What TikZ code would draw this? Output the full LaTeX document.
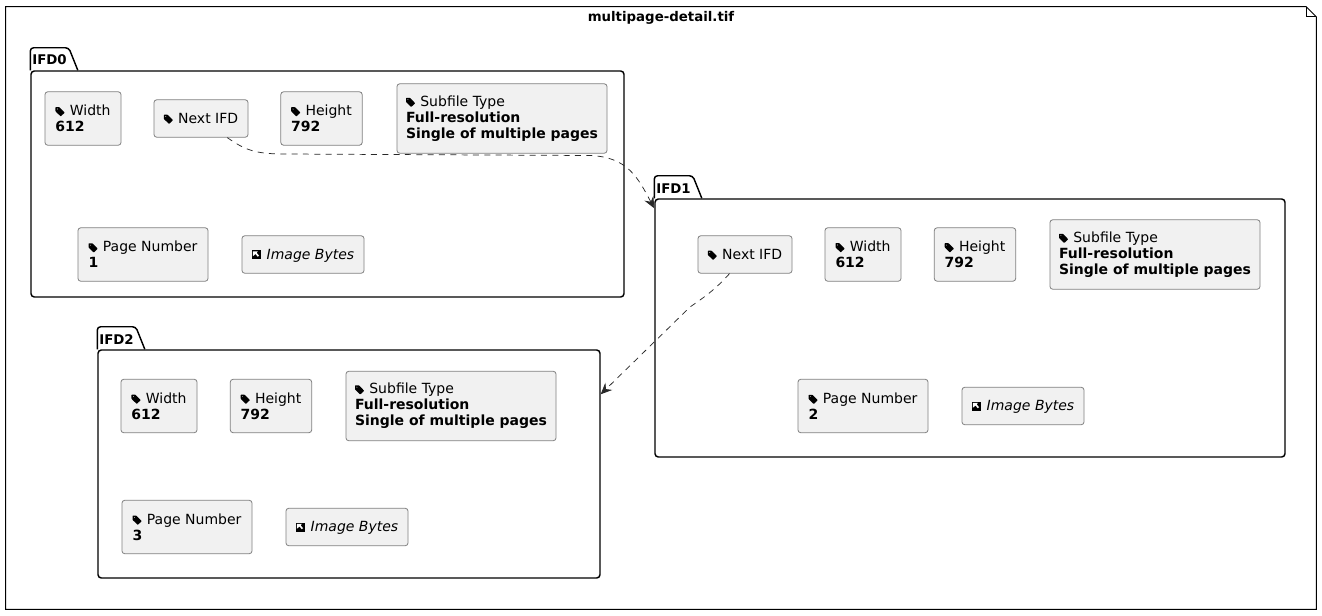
\documentclass[tikz,border=0pt]{standalone}
\usepackage{fontspec}
\setmainfont{DejaVu Sans}
\usepackage{tikz}
\usetikzlibrary{arrows.meta}
\definecolor{boxfill}{RGB}{241,241,241}
\definecolor{boxline}{RGB}{128,128,128}
\definecolor{linkline}{RGB}{40,40,40}
\newcommand{\tagicon}{\makebox[10.75pt][l]{\tikz[baseline=0pt, sharp corners]{\fill[even odd rule, rounded corners=0.35pt] (0pt,6.4pt) -- (2.9pt,6.4pt) -- (6.9pt,2.3pt) -- (3.9pt,-0.5pt) -- (0pt,3.3pt) -- cycle (1.4pt,5pt) circle (0.55pt);}}}
\newcommand{\imgicon}{\makebox[11.25pt][l]{\tikz[baseline=0pt, sharp corners]{\fill (0pt,-0.1pt) rectangle (6.75pt,6.65pt); \fill[white] (0.9pt,5.75pt) -- (4.6pt,5.75pt) -- (3.7pt,4.7pt) -- (5.5pt,2.5pt) -- (4.6pt,1.7pt) -- (2.8pt,3.8pt) -- (0.9pt,2.1pt) -- cycle;}}}
\tikzstyle{attr} = [rectangle, rounded corners=2pt, align=left, inner sep=0pt, draw=boxline, line width=0.6pt, fill=boxfill, font=\fontsize{10.5pt}{12pt}\selectfont]
\tikzstyle{wbox} = [attr, minimum width=57pt, minimum height=40pt]
\tikzstyle{nbox} = [attr, minimum width=70.5pt, minimum height=28pt]
\tikzstyle{hbox} = [attr, minimum width=61pt, minimum height=40pt]
\tikzstyle{sbox} = [attr, minimum width=157.5pt, minimum height=52pt]
\tikzstyle{pbox} = [attr, minimum width=97.5pt, minimum height=40pt]
\tikzstyle{ibox} = [attr, minimum width=91.5pt, minimum height=28pt, text height=9pt]
\tikzstyle{package} = [rectangle, draw=black, line width=1.1pt, rounded corners=2.5pt, fill=white, inner sep=0pt]
\tikzstyle{tabline} = [draw=black, line width=1.1pt, rounded corners=2.5pt]
\tikzstyle{tablabel} = [inner sep=0pt, minimum width=28.5pt, minimum height=16.5pt, text height=9pt, anchor=south west, font=\fontsize{10pt}{12pt}\selectfont\bfseries]
\tikzstyle{arrow} = [draw=linkline, line width=0.55pt, dash pattern=on 4.5pt off 4pt, -{Stealth[length=8.5pt,width=7.5pt,inset=3pt]}]
\begin{document}
\begin{tikzpicture}[x=0.75pt, y=-0.75pt, node distance=75pt]
        \useasboundingbox (0,0) rectangle (1322,615);
        \node (file) [inner sep=0pt, minimum width=982.5pt, minimum height=451.5pt] at (661,308) {};
        \draw [fill=white, line width=0.75pt] (file.north west) -- ([xshift=-7.5pt]file.north east) -- ([yshift=-7.5pt]file.north east) -- (file.south east) -- (file.south west) -- cycle;
        \draw [line width=0.75pt] ([xshift=-7.5pt]file.north east) -- ++(0,10) -- ([yshift=-7.5pt]file.north east);
        \node (title) [font=\fontsize{10pt}{12pt}\selectfont\bfseries, inner sep=0pt] at (661,17.5) {multipage-detail.tif};

        \node (ifd0) [package, minimum width=444.75pt, minimum height=169.5pt] at (327.5,184) {};
        \node (tab0) [tablabel] at (ifd0.north west) {IFD0};
        \node (ifd1) [package, minimum width=472.5pt, minimum height=193.5pt] at (970,328) {};
        \node (tab1) [tablabel] at (ifd1.north west) {IFD1};
        \node (ifd2) [package, minimum width=376.5pt, minimum height=171pt] at (349,464) {};
        \node (tab2) [tablabel] at (ifd2.north west) {IFD2};
        \foreach \tabname in {tab0, tab1, tab2}
            \draw [tabline] (\tabname.south west) -- (\tabname.north west) -- (\tabname.north east) -- ([xshift=6.75pt]\tabname.south east);

        \node (width0) [wbox] at (83,118.5) {\tagicon Width\\\textbf{612}};
        \node (next0) [nbox, right of=width0, xshift=13.5pt] {\tagicon Next IFD};
        \node (height0) [hbox, right of=next0, xshift=15.375pt] {\tagicon Height\\\textbf{792}};
        \node (sub0) [sbox, right of=height0, xshift=60.375pt] {\tagicon Subfile Type\\\textbf{Full-resolution}\\\textbf{Single of multiple pages}};
        \node (page0) [pbox, below of=width0, xshift=45pt, yshift=-27pt] {\tagicon Page Number\\\textbf{1}};
        \node (image0) [ibox, right of=page0, xshift=45pt] {\imgicon\textit{Image Bytes}};

        \node (next1) [nbox] at (745,254.5) {\tagicon Next IFD};
        \node (width1) [wbox, right of=next1, xshift=13.5pt] {\tagicon Width\\\textbf{612}};
        \node (height1) [hbox, right of=width1, xshift=9pt] {\tagicon Height\\\textbf{792}};
        \node (sub1) [sbox, right of=height1, xshift=60pt] {\tagicon Subfile Type\\\textbf{Full-resolution}\\\textbf{Single of multiple pages}};
        \node (page1) [pbox, below of=width1, yshift=-38.625pt] {\tagicon Page Number\\\textbf{2}};
        \node (image1) [ibox, right of=page1, xshift=45pt] {\imgicon\textit{Image Bytes}};

        \node (width2) [wbox] at (159,406) {\tagicon Width\\\textbf{612}};
        \node (height2) [hbox, right of=width2, xshift=9pt] {\tagicon Height\\\textbf{792}};
        \node (sub2) [sbox, right of=height2, xshift=60pt] {\tagicon Subfile Type\\\textbf{Full-resolution}\\\textbf{Single of multiple pages}};
        \node (page2) [pbox, below of=width2, xshift=21pt, yshift=-15.75pt] {\tagicon Page Number\\\textbf{3}};
        \node (image2) [ibox, right of=page2, xshift=45pt] {\imgicon\textit{Image Bytes}};

        \draw [arrow] (next0.-36.5) .. controls (245,150) and (255,154) .. (285,154) -- (590,155.5) .. controls (628,157) and (638,178) .. ([yshift=-7.5pt]ifd1.north west);
        \draw [arrow] (next1.-129) .. controls (715,290) and (703,298) .. (690,307) -- ([yshift=-33.75pt]ifd2.north east);
    \end{tikzpicture}
\end{document}
